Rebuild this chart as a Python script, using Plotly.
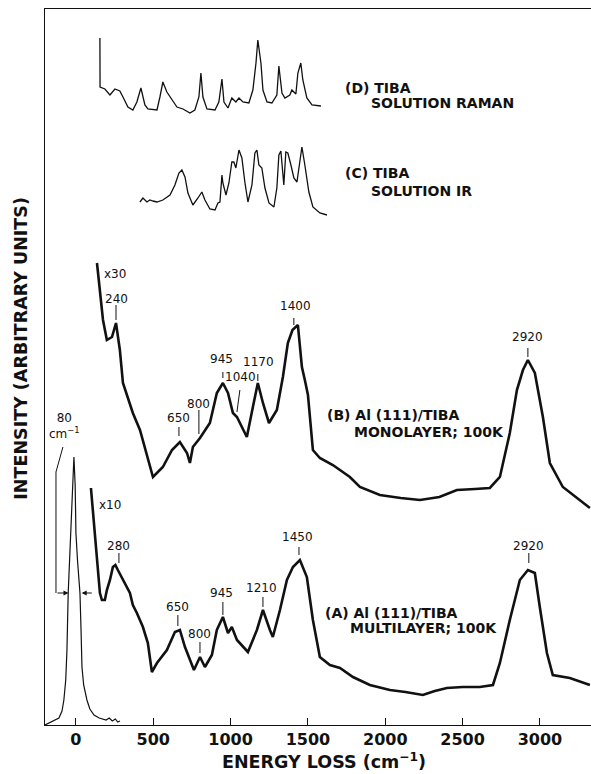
import plotly.graph_objects as go

# ---------------- data (energy loss in cm^-1, intensity in arbitrary units) -------------
elastic_x = [-200, -160, -130, -110, -90, -78, -66, -58, -50, -42, -32, -22, -13, -5, 0,
             10, 26, 33, 39, 50, 71, 90, 117, 150, 195, 215, 235, 255, 270, 285]
elastic_y = [0, 3, 5, 7, 14, 25, 45, 75, 132, 165, 192, 240, 268, 240, 192,
             165, 132, 95, 58, 40, 25, 16, 10, 7, 5, 7, 4, 6, 3, 4]

multi_x = [97, 110, 142, 155, 168, 187, 200, 220, 239, 255, 271, 304, 349, 368, 394, 433, 465,
           491, 524, 588, 640, 672, 705, 763, 802, 834, 879, 911, 950, 983, 1008, 1041, 1112,
           1170, 1209, 1254, 1273, 1319, 1364, 1403, 1448, 1493, 1532, 1577, 1642, 1707, 1791,
           1900, 2030, 2130, 2243, 2320, 2398, 2500, 2611, 2696, 2741, 2805, 2870, 2922, 2967,
           2999, 3045, 3083, 3193, 3323]
multi_y = [237, 215, 158, 132, 125, 125, 135, 145, 158, 160, 155, 145, 132, 120, 112, 98, 82,
           53, 62, 75, 93, 95, 78, 55, 68, 58, 70, 95, 108, 92, 98, 85, 73,
           95, 115, 95, 88, 115, 145, 158, 165, 148, 105, 68, 60, 57, 48,
           40, 35, 33, 30, 34, 37, 38, 38, 40, 62, 105, 145, 155, 152,
           118, 72, 50, 47, 40]

mono_x = [136, 155, 175, 200, 233, 259, 284, 304, 368, 414, 465, 498, 562, 621, 672, 718, 737,
          756, 802, 866, 911, 950, 983, 1015, 1041, 1105, 1144, 1176, 1209, 1248, 1299, 1338,
          1370, 1400, 1435, 1461, 1480, 1500, 1532, 1577, 1661, 1771, 1836, 1965, 2100, 2224,
          2350, 2463, 2580, 2676, 2741, 2805, 2851, 2890, 2922, 2967, 3019, 3064, 3148, 3258,
          3323]
mono_y = [462, 435, 405, 385, 388, 402, 375, 342, 312, 295, 268, 248, 258, 275, 283, 272, 262,
          278, 287, 302, 332, 342, 332, 312, 308, 288, 318, 342, 322, 302, 315, 348,
          382, 395, 400, 358, 345, 330, 275, 267, 260, 248, 238, 230, 227, 225,
          228, 235, 236, 237, 248, 292, 335, 355, 365, 352, 308, 262, 238, 225,
          217]

ir_x = [414, 433, 459, 478, 498, 524, 562, 608, 640, 666, 685, 705, 724, 756, 789, 814, 834,
        866, 899, 918, 931, 944, 950, 970, 989, 1008, 1021, 1034, 1054, 1073, 1092, 1112, 1138,
        1157, 1170, 1183, 1202, 1222, 1248, 1280, 1299, 1312, 1325, 1338, 1344, 1357, 1370,
        1390, 1409, 1429, 1448, 1461, 1480, 1506, 1532, 1577, 1623]
ir_y = [523, 527, 523, 525, 524, 523, 525, 530, 540, 552, 555, 548, 532, 520, 527, 533, 525,
        516, 515, 522, 523, 550, 542, 530, 542, 563, 563, 557, 575, 567, 543, 523, 540,
        572, 575, 560, 557, 537, 522, 518, 537, 570, 574, 553, 540, 573, 572,
        560, 547, 543, 563, 578, 560, 533, 518, 512, 510]

raman_x = [155, 156, 187, 220, 252, 284, 304, 336, 368, 394, 420, 446, 465, 524, 543, 562, 588,
           621, 653, 692, 737, 769, 795, 808, 821, 847, 899, 924, 944, 957, 983, 1008, 1034,
           1054, 1080, 1118, 1144, 1164, 1176, 1196, 1209, 1235, 1267, 1299, 1312, 1332, 1351,
           1383, 1396, 1422, 1435, 1454, 1467, 1493, 1526, 1584]
raman_y = [687, 638, 636, 630, 636, 634, 628, 618, 615, 623, 637, 620, 616, 615, 628, 643, 633,
           625, 618, 616, 612, 615, 628, 652, 628, 616, 615, 623, 646, 623, 617, 627, 623,
           627, 623, 622, 635, 662, 685, 662, 635, 623, 622, 630, 659, 632, 627,
           630, 635, 631, 652, 662, 645, 627, 620, 619]

tick_vals = [0, 500, 1000, 1500, 2000, 2500, 3000]
tick_text = ["0", "500", "1000", "1500", "2000", "2500", "3000"]

# peak labels: (text, label x, label y, marker x, marker y0, marker y1)
peaks_B = [("240", 265, 426, 259, 405, 420), ("650", 666, 307, 666, 289, 298),
           ("800", 795, 321, 795, 291, 315), ("945", 944, 366, 950, 347, 353),
           ("1170", 1183, 363, 1176, 344, 351), ("1400", 1422, 419, 1409, 400, 407),
           ("2920", 2922, 388, 2922, 368, 377)]
peaks_A = [("280", 278, 179, 278, 162, 172), ("650", 659, 118, 659, 99, 110),
           ("800", 802, 91, 802, 72, 83), ("945", 944, 132, 950, 110, 123),
           ("1210", 1202, 137, 1209, 118, 128), ("1450", 1435, 188, 1442, 170, 178),
           ("2920", 2928, 179, 2928, 162, 172)]

# spectrum captions: (line1, x1, y1, line2, x2, y2)
captions = [("(D) TIBA", 1726, 637, "SOLUTION RAMAN", 1894, 622),
            ("(C) TIBA", 1726, 552, "SOLUTION IR", 1894, 534),
            ("(B) Al (111)/TIBA", 1610, 310, "MONOLAYER; 100K", 1784, 293),
            ("(A) Al (111)/TIBA", 1597, 112, "MULTILAYER; 100K", 1758, 97)]

INK = "#111111"
FONT = "DejaVu Sans"

fig = go.Figure()
for xs, ys, w in [(elastic_x, elastic_y, 1.2), (multi_x, multi_y, 2.6), (mono_x, mono_y, 2.6),
                  (ir_x, ir_y, 1.3), (raman_x, raman_y, 1.3)]:
    fig.add_trace(go.Scatter(x=xs, y=ys, mode="lines", line=dict(color=INK, width=w),
                             showlegend=False, hoverinfo="skip"))

ann = []
shapes = []
for txt, lx, ly, mx, y0, y1 in peaks_B + peaks_A:
    ann.append(dict(x=lx, y=ly, text=txt, showarrow=False, xref="x", yref="y",
                    font=dict(family=FONT, size=12, color=INK)))
    shapes.append(dict(type="line", xref="x", yref="y", x0=mx, x1=mx, y0=y0, y1=y1,
                       line=dict(color=INK, width=1)))
# 1040 label with slanted marker
ann.append(dict(x=1067, y=348, text="1040", showarrow=False, font=dict(family=FONT, size=12, color=INK)))
shapes.append(dict(type="line", xref="x", yref="y", x0=1060, y0=335, x1=1041, y1=313,
                   line=dict(color=INK, width=1)))
# multipliers
ann.append(dict(x=252, y=451, text="x30", showarrow=False, font=dict(family=FONT, size=12, color=INK)))
ann.append(dict(x=220, y=220, text="x10", showarrow=False, font=dict(family=FONT, size=12, color=INK)))
# FWHM annotation of elastic peak
ann.append(dict(x=-77, y=299, text="80<br>cm<sup>−1</sup>", showarrow=False,
                font=dict(family=FONT, size=12, color=INK)))
shapes.append(dict(type="line", xref="x", yref="y", x0=-84, y0=278, x1=-129, y1=253,
                   line=dict(color=INK, width=1)))
shapes.append(dict(type="line", xref="x", yref="y", x0=-129, y0=253, x1=-129, y1=132,
                   line=dict(color=INK, width=1)))
ann.append(dict(x=-48, y=132, ax=-129, ay=132, axref="x", ayref="y", xref="x", yref="y",
                text="", showarrow=True, arrowhead=2, arrowsize=1, arrowwidth=1, arrowcolor=INK))
ann.append(dict(x=37, y=132, ax=112, ay=132, axref="x", ayref="y", xref="x", yref="y",
                text="", showarrow=True, arrowhead=2, arrowsize=1, arrowwidth=1, arrowcolor=INK))
# captions
for t1, x1, y1, t2, x2, y2 in captions:
    ann.append(dict(x=x1, y=y1, text=t1, showarrow=False, xanchor="left", yanchor="middle",
                    font=dict(family=FONT, size=14, color=INK, weight="bold")))
    ann.append(dict(x=x2, y=y2, text=t2, showarrow=False, xanchor="left", yanchor="middle",
                    font=dict(family=FONT, size=14, color=INK, weight="bold")))
# axis titles
ann.append(dict(xref="paper", yref="paper", x=-0.044, y=0.527, xanchor="center", yanchor="middle",
                text="INTENSITY (ARBITRARY UNITS)", textangle=-90, showarrow=False,
                font=dict(family=FONT, size=17.5, color=INK, weight="bold")))
ann.append(dict(xref="paper", yref="paper", x=0.511, y=-0.05, xanchor="center", yanchor="middle",
                text="ENERGY LOSS (cm<sup>−1</sup>)", showarrow=False,
                font=dict(family=FONT, size=17.5, color=INK, weight="bold")))

fig.update_layout(
    width=591, height=774,
    margin=dict(l=45, r=0, t=9, b=49),
    paper_bgcolor="white", plot_bgcolor="white",
    annotations=ann, shapes=shapes,
    xaxis=dict(range=[-200, 3330], showgrid=False, zeroline=False, showline=True, mirror=True,
               linecolor=INK, linewidth=1.2, ticks="inside", ticklen=7, tickcolor=INK,
               tickvals=tick_vals, ticktext=tick_text,
               tickfont=dict(family=FONT, size=16, color=INK, weight="bold")),
    yaxis=dict(range=[0, 716], showgrid=False, zeroline=False, showline=True, linecolor=INK,
               linewidth=1.2, showticklabels=False, ticks=""),
)
fig.write_html("out.html", config={"displayModeBar": False},
               post_script="document.body.style.margin='0';document.body.style.overflow='hidden';")
